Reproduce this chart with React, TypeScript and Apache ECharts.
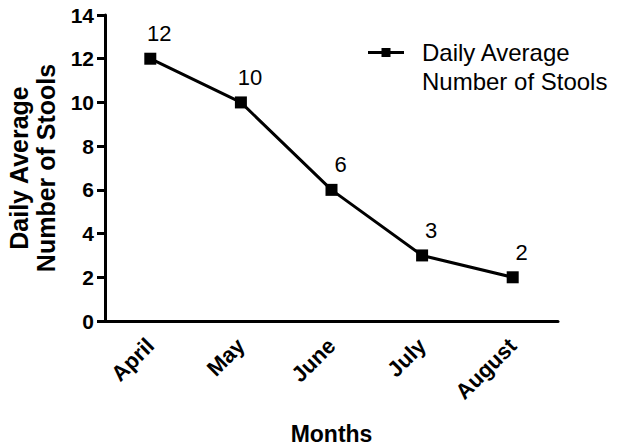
import React, { useEffect, useRef } from "react";
import * as echarts from "echarts";

const months = ["April", "May", "June", "July", "August"];
const stools = [12, 10, 6, 3, 2];
const seriesName = "Daily Average\nNumber of Stools";
const yTitle = "Daily Average\nNumber of Stools";
const xTitle = "Months";

const FONT = "'Liberation Sans', Arial, Helvetica, sans-serif";
const LEGEND_ICON =
  "path://M0 0 M36 58 M0 13 L36 13 L36 16 L0 16 Z M13.5 10 L22.5 10 L22.5 19 L13.5 19 Z";

export default function App() {
  const ref = useRef<HTMLDivElement>(null);
  useEffect(() => {
    if (!ref.current) return;
    const chart = echarts.init(ref.current, undefined, { renderer: "svg" });
    chart.setOption({
      animation: false,
      backgroundColor: "#ffffff",
      textStyle: { fontFamily: FONT },
      grid: {
        left: 105,
        right: 60,
        top: 15,
        bottom: 126,
        containLabel: false,
        outerBoundsMode: "none",
      },
      legend: {
        left: 363,
        top: 33,
        itemWidth: 36,
        itemHeight: 58,
        icon: LEGEND_ICON,
        data: [seriesName],
        itemStyle: { color: "#000" },
        textStyle: {
          fontFamily: FONT,
          fontSize: 24,
          color: "#000",
          lineHeight: 29,
          padding: [0, 0, 0, 13],
        },
      },
      xAxis: {
        type: "category",
        data: months,
        boundaryGap: true,
        name: xTitle,
        nameLocation: "middle",
        nameGap: 101,
        nameTextStyle: { fontFamily: FONT, fontSize: 23, fontWeight: "bold", color: "#000" },
        axisLine: { lineStyle: { color: "#000", width: 3 } },
        axisTick: { alignWithLabel: true, length: 10, lineStyle: { color: "#000", width: 3 } },
        axisLabel: {
          rotate: 45,
          margin: 21,
          fontFamily: FONT,
          fontSize: 22,
          fontWeight: "bold",
          color: "#000",
        },
        splitLine: { show: false },
      },
      yAxis: {
        type: "value",
        min: 0,
        max: 14,
        interval: 2,
        name: yTitle,
        nameLocation: "middle",
        nameGap: 40,
        nameTextStyle: {
          fontFamily: FONT,
          fontSize: 25,
          fontWeight: "bold",
          color: "#000",
          lineHeight: 27,
        },
        axisLine: { show: true, lineStyle: { color: "#000", width: 3 } },
        axisTick: { show: true, length: 8, lineStyle: { color: "#000", width: 3 } },
        axisLabel: {
          margin: 11,
          fontFamily: FONT,
          fontSize: 21,
          fontWeight: "bold",
          color: "#000",
        },
        splitLine: { show: false },
      },
      series: [
        {
          name: seriesName,
          type: "line",
          data: stools,
          symbol: "rect",
          symbolSize: 12,
          lineStyle: { color: "#000", width: 3 },
          itemStyle: { color: "#000" },
          label: {
            show: true,
            position: "top",
            offset: [9, -3],
            fontFamily: FONT,
            fontSize: 22,
            color: "#000",
          },
        },
      ],
    });
    return () => chart.dispose();
  }, []);
  return <div ref={ref} style={{ width: 618, height: 447, position: "absolute", left: 0, top: 0 }} />;
}
